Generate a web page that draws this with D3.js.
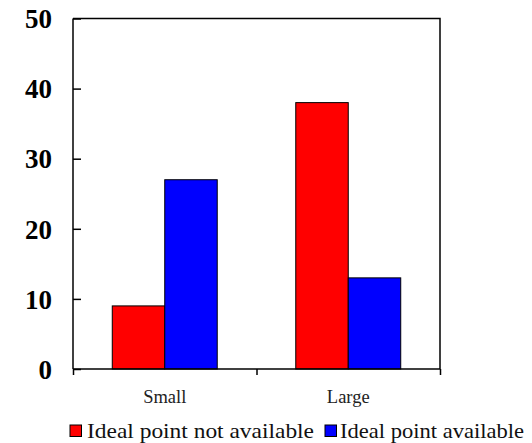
<!DOCTYPE html>
<html><head><meta charset="utf-8">
<script src="https://cdn.jsdelivr.net/npm/d3@7"></script>
<style>body{margin:0;background:#fff}svg{display:block}</style>
</head><body>
<svg id="c" width="532" height="443"></svg>
<script>
const categories = ["Small", "Large"];
const seriesNames = ["Ideal point not available", "Ideal point available"];
const notAvailable = [9, 38];
const available = [27, 13];
const yTicks = [0, 10, 20, 30, 40, 50];
const colors = ["#ff0000", "#0000ff"];

const svg = d3.select("#c");
const L = 73, R = 440, T = 18.5, B = 369;
const serif = '"Liberation Serif"';

const x0 = d3.scaleBand().domain(categories).range([L, R]).padding(0);
const x1 = d3.scaleBand().domain(seriesNames)
  .range([x0.bandwidth()/2 - x0.bandwidth()*0.286, x0.bandwidth()/2 + x0.bandwidth()*0.286]);
const y = d3.scaleLinear().domain([0, 50]).range([B, T]);

const data = categories.map((c, i) => ({cat: c, vals: [notAvailable[i], available[i]]}));

svg.append("path").attr("d", `M${L},${T}H${R}V${B}`).attr("fill","none").attr("stroke","#000").attr("stroke-width",1.5);

const g = svg.selectAll("g.cat").data(data).join("g").attr("transform", d => `translate(${x0(d.cat)},0)`);
g.selectAll("rect").data(d => d.vals.map((v, j) => ({v, j})))
  .join("rect")
  .attr("x", d => x1(seriesNames[d.j]))
  .attr("width", x1.bandwidth())
  .attr("y", d => y(d.v))
  .attr("height", d => y(0) - y(d.v))
  .attr("fill", d => colors[d.j])
  .attr("stroke", "#000").attr("stroke-width", 1);

const yAxis = d3.axisRight(y).tickValues(yTicks).tickSize(8).tickFormat("");
const ya = svg.append("g").attr("transform", `translate(${L},0)`).call(yAxis);
ya.select(".domain").attr("stroke-width", 1.5).attr("d", `M0,${T}V${B}`);
ya.selectAll(".tick line").attr("stroke-width", 1.5);
svg.selectAll("text.ylab").data(yTicks).join("text").attr("class","ylab")
  .attr("x", 52).attr("y", d => y(d)).attr("dy", "0.36em")
  .attr("text-anchor", "end").style("font-family", serif).style("font-weight", "bold")
  .style("font-size", "27px").text(d => d);

const xAxis = d3.axisBottom(d3.scaleLinear().domain([0, 2]).range([L, R])).tickValues([0,1,2]).tickSize(6).tickFormat("");
const xa = svg.append("g").attr("transform", `translate(0,${B})`).call(xAxis);
xa.select(".domain").attr("stroke-width", 1.5).attr("d", `M${L},0H${R}`);
xa.selectAll(".tick line").attr("stroke-width", 1.5);
svg.selectAll("text.xlab").data(categories).join("text").attr("class","xlab")
  .attr("x", d => x0(d) + x0.bandwidth()/2).attr("y", 403)
  .attr("text-anchor", "middle").style("font-family", serif).style("font-size", "18.5px")
  .style("fill", "#222").text(d => d);

const legX = [70, 325], textX = [87, 340], textW = [227, 184];
seriesNames.forEach((s, j) => {
  svg.append("rect").attr("x", legX[j]).attr("y", 425).attr("width", 11.5).attr("height", 11.5)
    .attr("fill", colors[j]).attr("stroke", "#000").attr("stroke-width", 1);
  svg.append("text").attr("x", textX[j]).attr("y", 438)
    .style("font-family", serif).style("font-size", "21px").style("fill", "#111")
    .attr("textLength", textW[j]).attr("lengthAdjust", "spacingAndGlyphs").text(s);
});
</script>
</body></html>
